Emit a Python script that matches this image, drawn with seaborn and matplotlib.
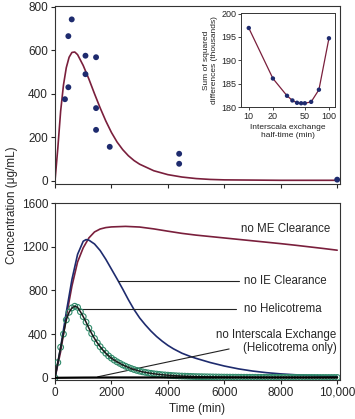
import numpy as np
import pandas as pd
import matplotlib
matplotlib.use("Agg")
import matplotlib.pyplot as plt
import seaborn as sns

# ---------------- data ----------------
# top panel: measured points and model fit
obs_t = [353, 473, 473, 593, 1080, 1080, 1455, 1455, 1455, 1940, 4400, 4400, 10000]
obs_c = [375, 665, 430, 742, 575, 490, 568, 334, 234, 156, 124, 78, 5]

fit_t = [0, 100, 200, 300, 400, 500, 600, 700, 800, 1000, 1200, 1400, 1600, 1800,
         2000, 2200, 2400, 2600, 2800, 3000, 3500, 4000, 4500, 5000, 5500, 6000,
         7000, 8000, 9000, 10000]
fit_c = [0, 150, 320, 440, 520, 568, 590, 592, 580, 530, 468, 400, 335, 275,
         222, 178, 143, 115, 93, 76, 46, 28, 17, 10, 6, 4, 3, 2, 2, 2]

# inset: sum of squared differences vs interscala exchange half-time
half_time = [10, 20, 30, 35, 40, 45, 50, 60, 75, 100]
ssd = [196.9, 186.1, 182.4, 181.4, 180.9, 180.8, 180.8, 181.1, 183.7, 194.7]

# bottom panel: simulations
sim_t_me = [0, 200, 400, 600, 800, 1000, 1200, 1400, 1600, 1800, 2000, 2500, 3000,
            3500, 4000, 4500, 5000, 5500, 6000, 6500, 7000, 7500, 8000, 8500,
            9000, 9500, 10000]
no_me = [0, 240, 560, 840, 1060, 1190, 1280, 1335, 1362, 1375, 1381, 1386, 1380,
         1363, 1342, 1322, 1306, 1293, 1280, 1267, 1254, 1241, 1228, 1214,
         1199, 1184, 1168]

sim_t_ie = [0, 200, 400, 600, 800, 1000, 1100, 1200, 1400, 1600, 1800, 2000, 2200,
            2400, 2600, 2800, 3000, 3200, 3400, 3600, 3800, 4000, 4200, 4500,
            4800, 5000, 5500, 6000, 6500, 7000, 7500, 8000, 8500, 9000, 9500, 10000]
no_ie = [0, 280, 600, 900, 1130, 1250, 1265, 1260, 1225, 1165, 1085, 995, 905,
         812, 715, 625, 548, 485, 428, 378, 335, 297, 265, 225,
         195, 178, 140, 108, 82, 62, 47, 36, 28, 22, 17, 13]

heli_t = list(range(0, 10001, 100))
no_heli = [0, 140, 280, 400, 530, 600, 640, 655, 645, 605,
           560, 510, 455, 405, 360, 320, 285, 253, 225, 200,
           180, 162, 146, 132, 118, 106, 95, 85, 76, 68,
           61, 55, 50, 45, 41, 37, 34, 31, 28, 26,
           24, 22, 20, 18.5, 17, 16, 15, 14, 13, 12,
           11, 10.5, 10, 9.5, 9, 8.5, 8, 7.6, 7.2, 6.8,
           6.5, 6.2, 6, 5.8, 5.6, 5.4, 5.2, 5, 4.9, 4.8,
           4.7, 4.6, 4.5, 4.4, 4.3, 4.2, 4.1, 4, 4, 4,
           3.9, 3.9, 3.8, 3.8, 3.7, 3.7, 3.6, 3.6, 3.5, 3.5,
           3.5, 3.4, 3.4, 3.4, 3.3, 3.3, 3.3, 3.2, 3.2, 3.2, 3.2]

noie_ex_t = [0, 1000, 2000, 3000, 4000, 5000, 6000, 7000, 8000, 9000, 10000]
no_interscala = [0, 2, 3, 3, 3, 3, 3, 3, 3, 3, 3]

x_ticks = [0, 2000, 4000, 6000, 8000, 10000]
x_tick_labels = ["0", "2000", "4000", "6000", "8000", "10,000"]
top_y_ticks = [0, 200, 400, 600, 800]
bot_y_ticks = [0, 400, 800, 1200, 1600]
inset_x_ticks = [10, 20, 50, 100]
inset_y_ticks = [180, 185, 190, 195, 200]

# ---------------- style ----------------
sns.set_style("ticks")
plt.rcParams['font.family'] = ['Liberation Sans', 'DejaVu Sans']
plt.rcParams['axes.edgecolor'] = '#333333'
plt.rcParams['axes.linewidth'] = 0.8

MAROON = '#7a1f3c'
NAVY = '#1e2b6e'
GREEN = '#2f8a6a'

W, H = 355, 419
fig = plt.figure(figsize=(W / 100, H / 100), dpi=100)

def frac(l, t, r, b):
    return [l / W, 1 - b / H, (r - l) / W, (b - t) / H]

ax1 = fig.add_axes(frac(55, 5.7, 340, 184))
ax2 = fig.add_axes(frac(55, 203, 340, 380))
axi = fig.add_axes(frac(241, 13.5, 335, 107))

# ---- top panel ----
df_fit = pd.DataFrame({"t": fit_t, "c": fit_c})
df_obs = pd.DataFrame({"t": obs_t, "c": obs_c})
sns.lineplot(data=df_fit, x="t", y="c", ax=ax1, color=MAROON, lw=1.2)
sns.scatterplot(data=df_obs, x="t", y="c", ax=ax1, color=NAVY, s=18,
                edgecolor='none', zorder=5, clip_on=False)
ax1.set_xlim(0, 10100)
ax1.set_ylim(-15, 805)
ax1.set_xticks(x_ticks)
ax1.set_xticklabels([])
ax1.set_yticks(top_y_ticks)
ax1.set_xlabel("")
ax1.set_ylabel("")

# ---- inset ----
df_ssd = pd.DataFrame({"h": half_time, "s": ssd})
sns.lineplot(data=df_ssd, x="h", y="s", ax=axi, color=MAROON, lw=0.9)
sns.scatterplot(data=df_ssd, x="h", y="s", ax=axi, color=NAVY, s=10,
                edgecolor='none', zorder=5, clip_on=False)
axi.set_xscale('log')
axi.set_xlim(8.0, 119)
axi.set_ylim(180, 200)
axi.set_xticks(inset_x_ticks)
axi.set_xticklabels([str(v) for v in inset_x_ticks])
axi.minorticks_off()
axi.set_yticks(inset_y_ticks)
axi.tick_params(labelsize=6.5, length=2, width=0.6, pad=1.5)
axi.set_xlabel("Interscala exchange\nhalf-time (min)", fontsize=6, labelpad=2,
               color='#222222')
axi.set_ylabel("Sum of squared\ndifferences (thousands)", fontsize=6, labelpad=2,
               color='#222222')
for s in axi.spines.values():
    s.set_linewidth(0.7)

# ---- bottom panel ----
df_me = pd.DataFrame({"t": sim_t_me, "c": no_me})
df_ie = pd.DataFrame({"t": sim_t_ie, "c": no_ie})
df_he = pd.DataFrame({"t": heli_t, "c": no_heli})
df_nx = pd.DataFrame({"t": noie_ex_t, "c": no_interscala})
sns.lineplot(data=df_me, x="t", y="c", ax=ax2, color=MAROON, lw=1.2)
sns.lineplot(data=df_ie, x="t", y="c", ax=ax2, color=NAVY, lw=1.2)
sns.scatterplot(data=df_he, x="t", y="c", ax=ax2, s=17, marker='o',
                facecolor='none', edgecolor=GREEN, linewidth=0.8, zorder=3)
sns.lineplot(data=df_he, x="t", y="c", ax=ax2, color='#1a1a1a', lw=1.1, zorder=4)
sns.lineplot(data=df_nx, x="t", y="c", ax=ax2, color='black', lw=1.6, zorder=4)
ax2.set_xlim(0, 10100)
ax2.set_ylim(-20, 1600)
ax2.set_xticks(x_ticks)
ax2.set_xticklabels(x_tick_labels)
ax2.set_yticks(bot_y_ticks)
ax2.set_xlabel("Time (min)", fontsize=8.5, labelpad=3)
ax2.set_ylabel("")

for ax in (ax1, ax2):
    ax.tick_params(labelsize=8.5, length=3, width=0.8, pad=2)
    for s in ax.spines.values():
        s.set_visible(True)
        s.set_linewidth(0.8)

# annotations
fs = 8.3
ax2.text(6600, 1360, "no ME Clearance", fontsize=fs, va='center', ha='left')
ax2.plot([2230, 6520], [887, 887], color='#222222', lw=0.8)
ax2.text(6700, 887, "no IE Clearance", fontsize=fs, va='center', ha='left')
ax2.plot([815, 6420], [631, 631], color='#222222', lw=0.8)
ax2.text(6700, 631, "no Helicotrema", fontsize=fs, va='center', ha='left')
ax2.plot([1514, 6170], [9, 264], color='#222222', lw=0.8)
ax2.text(9980, 390, "no Interscala Exchange", fontsize=fs, va='center', ha='right')
ax2.text(9980, 270, "(Helicotrema only)", fontsize=fs, va='center', ha='right')

fig.text(12 / W, 1 - 205 / H, "Concentration (\u03bcg/mL)", rotation=90,
         fontsize=8.5, ha='center', va='center')

fig.savefig("out.png", dpi=100)
